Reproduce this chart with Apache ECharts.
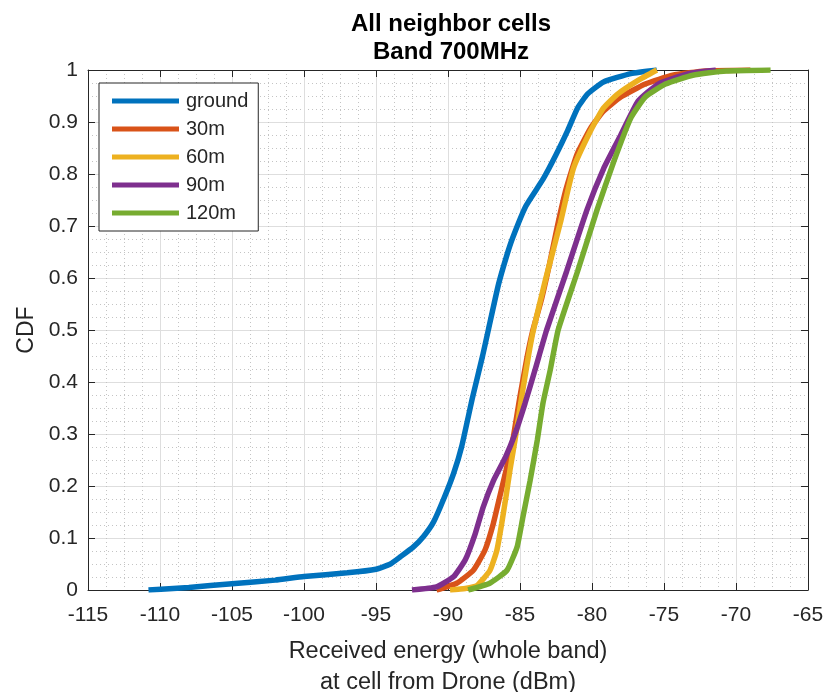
<!DOCTYPE html>
<html>
<head>
<meta charset="utf-8">
<script src="https://cdn.jsdelivr.net/npm/echarts@6/dist/echarts.min.js"></script>
<style>html,body{margin:0;padding:0;background:#fff;}#c{width:827px;height:692px;}</style>
</head>
<body>
<div id="c"></div>
<script>
// ---- data ----
const seriesNames = ['ground', '30m', '60m', '90m', '120m'];
const xTicks = [-115, -110, -105, -100, -95, -90, -85, -80, -75, -70, -65];
const yTicks = [0, 0.1, 0.2, 0.3, 0.4, 0.5, 0.6, 0.7, 0.8, 0.9, 1];

const ground = [[-110.8,0],[-108,0.005],[-105,0.012],[-102,0.019],[-100,0.026],[-97,0.033],[-95,0.04],[-94,0.05],[-93.3,0.064],[-92.4,0.083],[-91.7,0.103],[-91,0.131],[-90.3,0.175],[-89.6,0.225],[-89.05,0.276],[-88.3,0.37],[-87.6,0.45],[-87.2,0.5],[-86.5,0.587],[-85.9,0.645],[-85.5,0.678],[-84.6,0.738],[-83.4,0.79],[-82.5,0.837],[-81.7,0.883],[-81,0.927],[-80.3,0.954],[-79.2,0.977],[-77.3,0.993],[-75.5,1.0]];
const m30 = [[-90.8,0],[-89.4,0.013],[-88.24,0.038],[-87.43,0.077],[-86.85,0.128],[-86.4,0.18],[-85.97,0.23],[-85.5,0.288],[-85,0.372],[-84.5,0.449],[-84.1,0.5],[-83.5,0.56],[-82.95,0.627],[-82.4,0.7],[-81.8,0.771],[-81.05,0.837],[-80.1,0.888],[-79.2,0.921],[-78,0.948],[-76.3,0.973],[-74.4,0.99],[-72.1,0.998],[-69,1.0]];
const m60 = [[-89.86,0],[-88.8,0.003],[-88.0,0.008],[-87.08,0.038],[-86.6,0.077],[-86.27,0.128],[-85.97,0.18],[-85.7,0.23],[-85.35,0.288],[-84.88,0.372],[-84.42,0.449],[-84.07,0.5],[-83.2,0.6],[-82.2,0.706],[-81.3,0.81],[-80.1,0.883],[-79.2,0.927],[-78.2,0.954],[-76.8,0.98],[-75.5,1.0]];
const m90 = [[-92.5,0],[-90.8,0.006],[-89.6,0.026],[-88.8,0.058],[-88.1,0.109],[-87.55,0.16],[-86.85,0.21],[-86,0.256],[-85.35,0.3],[-84.65,0.359],[-83.96,0.423],[-83.15,0.5],[-81.76,0.613],[-80.35,0.731],[-79.2,0.81],[-78,0.875],[-76.8,0.94],[-75.4,0.973],[-73.3,0.993],[-71.4,1.0]];
const m120 = [[-88.6,0],[-87.1,0.013],[-85.9,0.038],[-85.2,0.083],[-84.8,0.14],[-84.3,0.21],[-83.8,0.288],[-83.4,0.36],[-82.9,0.423],[-82.35,0.5],[-81,0.613],[-79.65,0.731],[-78.5,0.823],[-77.3,0.908],[-76.3,0.948],[-74.9,0.973],[-73,0.99],[-70.7,0.998],[-67.6,1.0]];
const allData = [ground, m30, m60, m90, m120];
const colors = ['#0072BD', '#D95319', '#EDB120', '#7E2F8E', '#77AC30'];

const FONT = "'Liberation Sans', Arial, Helvetica, sans-serif";
const TXT = '#262626';
const chart = echarts.init(document.getElementById('c'), null, {renderer: 'canvas'});

const xMin = xTicks[0], xMax = xTicks[xTicks.length - 1];
const yMin = yTicks[0], yMax = yTicks[yTicks.length - 1];

function xAxisCfg(pos, primary) {
  return {
    type: 'value', position: pos, min: xMin, max: xMax, interval: 5,
    axisLine: {show: true, onZero: false, lineStyle: {color: TXT, width: 1}},
    axisTick: {show: true, inside: true, length: 7, lineStyle: {color: TXT}},
    minorTick: {show: false, splitNumber: 4},
    axisLabel: {show: primary, color: TXT, fontSize: 21, fontFamily: FONT, margin: 15},
    splitLine: {show: primary, lineStyle: {color: '#dedede', width: 1}},
    minorSplitLine: {show: primary, lineStyle: {color: '#c4c4c4', width: 1, type: [1, 3]}},
    name: primary ? 'Received energy (whole band)\nat cell from Drone (dBm)' : '',
    nameLocation: 'middle', nameGap: 46,
    nameTextStyle: {color: TXT, fontSize: 23.5, fontFamily: FONT, lineHeight: 31}
  };
}
function yAxisCfg(pos, primary) {
  return {
    type: 'value', position: pos, min: yMin, max: yMax, interval: 0.1,
    axisLine: {show: true, onZero: false, lineStyle: {color: TXT, width: 1}},
    axisTick: {show: true, inside: true, length: 7, lineStyle: {color: TXT}},
    minorTick: {show: false, splitNumber: 4},
    axisLabel: {show: primary, color: TXT, fontSize: 21, fontFamily: FONT, margin: 10,
      formatter: v => (Math.round(v * 10) / 10).toString()},
    splitLine: {show: primary, lineStyle: {color: '#dedede', width: 1}},
    minorSplitLine: {show: primary, lineStyle: {color: '#c4c4c4', width: 1, type: [1, 3]}},
    name: primary ? 'CDF' : '',
    nameLocation: 'middle', nameGap: 50, nameRotate: 90,
    nameTextStyle: {color: TXT, fontSize: 23, fontFamily: FONT}
  };
}

const option = {
  backgroundColor: '#ffffff',
  animation: false,
  title: {
    text: 'All neighbor cells\nBand 700MHz',
    left: 446, top: 5, textAlign: 'center',
    textStyle: {color: '#000', fontSize: 24, fontWeight: 'bold', fontFamily: FONT, lineHeight: 28}
  },
  grid: {left: 88, top: 70, width: 720, height: 520, containLabel: false, outerBoundsMode: 'none'},
  xAxis: [xAxisCfg('bottom', true), xAxisCfg('top', false)],
  yAxis: [yAxisCfg('left', true), yAxisCfg('right', false)],
  legend: {
    orient: 'vertical', left: 99, top: 83,
    data: seriesNames,
    icon: 'rect', itemWidth: 67, itemHeight: 5, itemGap: 8,
    padding: [8, 10, 8, 13],
    borderColor: TXT, borderWidth: 1, backgroundColor: '#fff',
    textStyle: {color: TXT, fontSize: 20, fontFamily: FONT, lineHeight: 20, padding: [0, 0, 0, 2]}
  },
  series: seriesNames.map((n, i) => ({
    name: n, type: 'line', xAxisIndex: 0, yAxisIndex: 0,
    data: allData[i], showSymbol: false, symbol: 'none',
    smooth: 0.15,
    lineStyle: {color: colors[i], width: 5.5},
    itemStyle: {color: colors[i]},
    z: 2 + i
  }))
};
chart.setOption(option);
</script>
</body>
</html>
